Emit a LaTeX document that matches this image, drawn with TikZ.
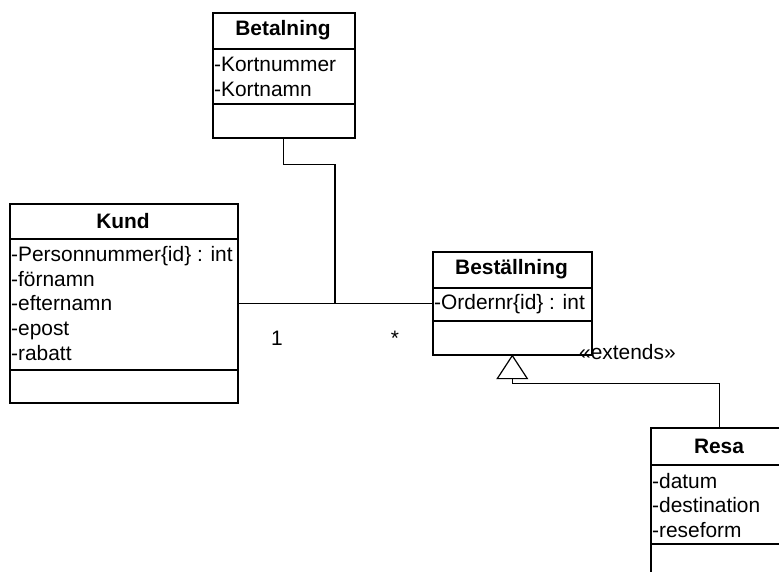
\documentclass[tikz,border=0pt]{standalone}
\usepackage{fontspec}
\setmainfont{Liberation Sans}
\usetikzlibrary{calc}
\begin{document}
\begin{tikzpicture}[x=1pt,y=-1pt,
  classbox/.style={draw, line width=1.6pt, anchor=north west, inner sep=0pt},
  title/.style={font=\fontsize{20.9}{24}\selectfont\bfseries, anchor=center, inner sep=0pt},
  attr/.style={font=\fontsize{20.9}{24}\selectfont, anchor=base west, inner sep=0pt},
  sep/.style={line width=1.6pt},
  link/.style={line width=1.2pt},
  mult/.style={font=\fontsize{20.9}{24}\selectfont, anchor=base, inner sep=0pt}]
\useasboundingbox (0,0) rectangle (779,572);
\clip (0,0) rectangle (779,572);

% Betalning
\node[classbox, minimum width=142pt, minimum height=125pt] (betal) at (212,12) {};
\draw[sep] (212,49) -- (354,49);
\draw[sep] (212,104) -- (354,104);
\node[title] (betalT) at (283,30.5) {Betalning};
\node[attr] (betalA1) at (214,72) {-Kortnummer};
\node[attr] (betalA2) at (214,96.6) {-Kortnamn};

% Kund
\node[classbox, minimum width=228pt, minimum height=199pt] (kund) at (9,203) {};
\draw[sep] (9,239) -- (237,239);
\draw[sep] (9,370) -- (237,370);
\node[title] (kundT) at (123,221) {Kund};
\node[attr] (kundA1) at (11,261.7) {-Personnummer\{id\} : int};
\node[attr] (kundA2) at (11,286.3) {-förnamn};
\node[attr] (kundA3) at (11,310.9) {-efternamn};
\node[attr] (kundA4) at (11,335.5) {-epost};
\node[attr] (kundA5) at (11,360.1) {-rabatt};

% Beställning
\node[classbox, minimum width=159pt, minimum height=103pt] (best) at (432,251) {};
\draw[sep] (432,288) -- (591,288);
\draw[sep] (432,321) -- (591,321);
\node[title] (bestT) at (511.5,269.5) {Beställning};
\node[attr] (bestA1) at (434,309) {-Ordernr\{id\} : int};

% Resa
\node[classbox, minimum width=138pt, minimum height=150pt] (resa) at (650,427) {};
\draw[sep] (650,465) -- (788,465);
\draw[sep] (650,544) -- (788,544);
\node[title] (resaT) at (719,446) {Resa};
\node[attr] (resaA1) at (652,488) {-datum};
\node[attr] (resaA2) at (652,512.6) {-destination};
\node[attr] (resaA3) at (652,537.2) {-reseform};

% association Kund -- Beställning, with Betalning attached
\coordinate (joint) at (335,302.5);
\draw[link] (kund.east) -- (best.west);
\draw[link] (betal.south) -- ++(0,26) -| (joint);
\node[mult] (m1) at (277,345) {1};
\node[mult] (mstar) at (395,345) {*};

% generalisation Resa -> Beställning
\draw[link, fill=white] (best.south) -- ++(-15,23) -- ++(30,0) -- cycle;
\coordinate (tribase) at ($(best.south)+(0,23)$);
\draw[link] (tribase) -- ++(0,5) -| (resa.north);
\node[attr] (ext) at (579,359) {«extends»};
\end{tikzpicture}
\end{document}
